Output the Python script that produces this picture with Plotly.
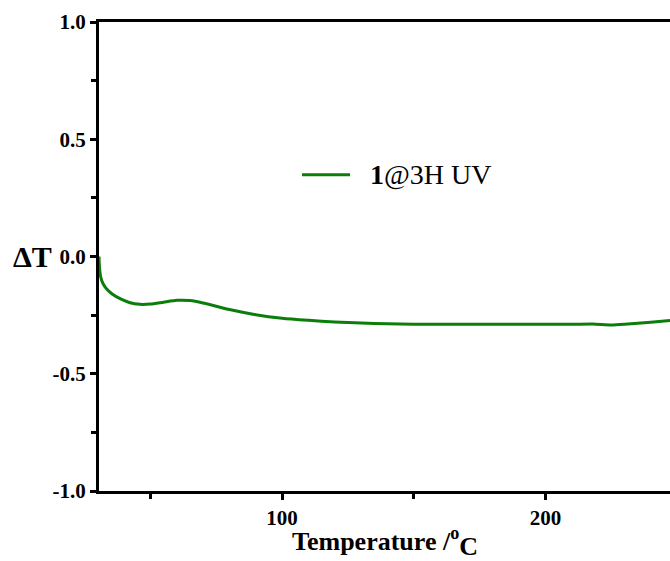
import plotly.graph_objects as go

# Data
temperature = [30.5, 30.6, 30.8, 31.2, 32.0, 33.5, 35.5, 38.5, 42, 46, 50, 55, 60, 65, 70, 75, 80,
               90, 100, 110, 120, 130, 140, 150, 160, 170, 180, 190, 200, 210, 218, 225, 230, 240, 247.3]
delta_t = [0.0, -0.03, -0.06, -0.09, -0.115, -0.14, -0.16, -0.18, -0.196, -0.204, -0.203, -0.195,
           -0.187, -0.188, -0.198, -0.212, -0.226, -0.248, -0.263, -0.272, -0.279, -0.284, -0.287,
           -0.289, -0.289, -0.289, -0.289, -0.289, -0.289, -0.289, -0.288, -0.292, -0.289, -0.28, -0.273]
series_name = "<b>1</b>@3H UV"
x_ticks = [100, 200]
y_ticks = [-1.0, -0.5, 0.0, 0.5, 1.0]
y_tick_labels = ["-1.0", "-0.5", "0.0", "0.5", "1.0"]

GREEN = "#0a7d0a"
FONT = "Liberation Serif"

fig = go.Figure()
fig.add_trace(go.Scatter(x=temperature, y=delta_t, mode="lines", name=series_name,
                         line=dict(color=GREEN, width=3, shape="spline", smoothing=0.6),
                         showlegend=False))

axis_common = dict(showgrid=False, zeroline=False, showline=True, linecolor="black", linewidth=3,
                   ticks="outside", ticklen=6, tickwidth=3, tickcolor="black",
                   tickfont=dict(family=FONT, size=21, color="black", weight="bold"))

fig.update_xaxes(range=[30.5, 247.3], tickvals=x_ticks, mirror=True,
                 minor=dict(ticks="outside", dtick=50, tick0=0, ticklen=5, tickwidth=3, tickcolor="black"),
                 **axis_common)
fig.update_yaxes(range=[-1, 1], tickvals=y_ticks, ticktext=y_tick_labels,
                 minor=dict(ticks="outside", dtick=0.25, tick0=0, ticklen=5, tickwidth=3, tickcolor="black"),
                 **axis_common)

# Legend drawn manually (long line sample like the reference)
fig.add_shape(type="line", xref="paper", yref="paper", x0=0.3555, x1=0.4396, y0=0.6745, y1=0.6745,
              line=dict(color=GREEN, width=3))
fig.add_annotation(xref="paper", yref="paper", x=0.471, y=0.6745, xanchor="left", yanchor="middle",
                   text=series_name, showarrow=False,
                   font=dict(family=FONT, size=28, color="black"))

# Axis titles
fig.add_annotation(xref="paper", yref="y", x=-0.116, y=0.0, xanchor="center", yanchor="middle",
                   text="<b>ΔT</b>", showarrow=False,
                   font=dict(family=FONT, size=30, color="black"))
fig.add_annotation(xref="paper", yref="paper", x=0.5, y=-0.109, xanchor="center", yanchor="middle",
                   text="<b>Temperature /<sup>o</sup><sub><span style='font-size:26px'>C</span></sub></b>",
                   showarrow=False, font=dict(family=FONT, size=26, color="black"))

fig.update_layout(width=670, height=561, margin=dict(l=99, r=0, t=22, b=70),
                  paper_bgcolor="white", plot_bgcolor="white")

fig.write_html("out.html")
